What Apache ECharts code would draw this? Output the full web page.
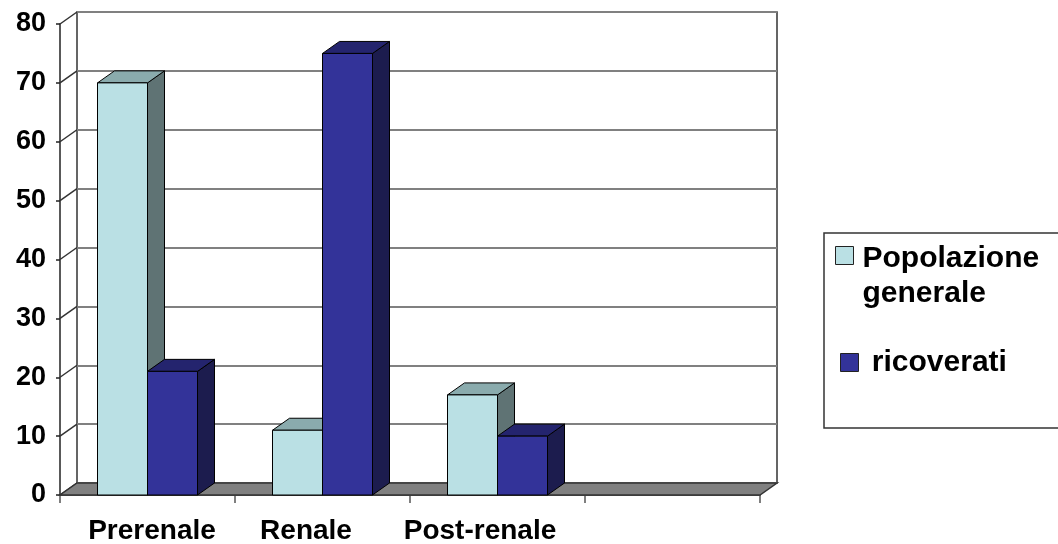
<!DOCTYPE html>
<html>
<head>
<meta charset="utf-8">
<script src="https://cdn.jsdelivr.net/npm/echarts@6/dist/echarts.min.js"></script>
<style>
  html, body { margin: 0; padding: 0; background: #ffffff; }
  #chart { width: 1058px; height: 544px; }
</style>
</head>
<body>
<div id="chart"></div>
<script>
const categories = ['Prerenale', 'Renale', 'Post-renale', '']
const popolazione = [70, 11, 17, null]
const ricoverati = [21, 75, 10, null]
const yTicks = [0, 10, 20, 30, 40, 50, 60, 70, 80]

// 3D depth of walls and bars, in pixels
const DX = 17
const DY = -12
const BAR_FRAC = 50 / 175

const lightColors = { front: '#BAE0E4', top: '#8AABAD', side: '#5F7374' }
const darkColors = { front: '#333399', top: '#24246E', side: '#1C1C4E' }
const font = 'Liberation Sans, Arial, sans-serif'

const chart = echarts.init(document.getElementById('chart'))

const barRenderer = (side, colors) => (params, api) => {
  const v = api.value(1)
  if (v == null || isNaN(v)) return null
  const idx = api.value(0)
  const base = api.coord([idx, 0])
  const top = api.coord([idx, v])
  const bw = api.size([1, 0])[0] * BAR_FRAC
  const x0 = base[0] + (side === 0 ? -bw : 0)
  const x1 = x0 + bw
  const ty = top[1]
  const by = base[1]
  const edge = { stroke: '#000', lineWidth: 1 }
  return {
    type: 'group',
    children: [
      { type: 'polygon', shape: { points: [[x1, ty], [x1 + DX, ty + DY], [x1 + DX, by + DY], [x1, by]] }, style: Object.assign({ fill: colors.side }, edge) },
      { type: 'polygon', shape: { points: [[x0, ty], [x1, ty], [x1 + DX, ty + DY], [x0 + DX, ty + DY]] }, style: Object.assign({ fill: colors.top }, edge) },
      { type: 'rect', shape: { x: x0, y: ty, width: bw, height: by - ty }, style: Object.assign({ fill: colors.front }, edge) }
    ]
  }
}

const labelStyle = { fontSize: 28, fontWeight: 'bold', fontFamily: font, color: '#000' }
const legendText = { fontSize: 30, fontWeight: 'bold', fontFamily: font, color: '#000', lineHeight: 35 }

const option = {
  backgroundColor: '#ffffff',
  animation: false,
  grid: [
    { left: 60, top: 24, width: 700, height: 471, outerBoundsMode: 'none' },
    { left: 77, top: 12, width: 700, height: 471, outerBoundsMode: 'none', show: true, borderColor: '#333', borderWidth: 1.5, backgroundColor: '#fff' }
  ],
  xAxis: [
    {
      type: 'category',
      gridIndex: 0,
      data: categories,
      axisLine: { show: true, lineStyle: { color: '#222', width: 1.5 } },
      axisTick: { show: true, length: 8, lineStyle: { color: '#555', width: 1.5 } },
      axisLabel: {
        margin: 22,
        interval: 0,
        formatter: (value, index) => '{c' + index + '|' + value + '}',
        rich: {
          c0: Object.assign({ padding: [0, 0, 0, 9] }, labelStyle),
          c1: Object.assign({ padding: [0, 33, 0, 0] }, labelStyle),
          c2: Object.assign({ padding: [0, 35, 0, 0] }, labelStyle),
          c3: labelStyle
        }
      },
      splitLine: { show: false }
    },
    {
      type: 'category',
      gridIndex: 1,
      data: categories,
      show: false
    }
  ],
  yAxis: [
    {
      type: 'value',
      gridIndex: 0,
      min: 0,
      max: 80,
      interval: 10,
      axisLine: { show: true, lineStyle: { color: '#222', width: 1.5 } },
      axisTick: { show: true, length: 4, lineStyle: { color: '#222', width: 1.5 } },
      axisLabel: { margin: 14, fontSize: 27, fontWeight: 'bold', fontFamily: font, color: '#000' },
      splitLine: { show: false }
    },
    {
      type: 'value',
      gridIndex: 1,
      min: 0,
      max: 80,
      interval: 10,
      axisLine: { show: false },
      axisTick: { show: false },
      axisLabel: { show: false },
      splitLine: { show: true, lineStyle: { color: '#808080', width: 2 } }
    }
  ],
  legend: [
    {
      data: ['Popolazione generale'],
      left: 835,
      top: 200,
      padding: 0,
      orient: 'vertical',
      selectedMode: false,
      icon: 'rect',
      itemWidth: 18,
      itemHeight: 18,
      itemStyle: { borderColor: '#222', borderWidth: 1 },
      formatter: () => '{b| }\n{a|Popolazione}\n{a|generale}',
      textStyle: Object.assign({
        rich: {
          a: Object.assign({ padding: [0, 0, 0, 4] }, legendText),
          b: Object.assign({}, legendText, { lineHeight: 41 })
        }
      }, legendText)
    },
    {
      data: ['ricoverati'],
      left: 840,
      top: 345,
      padding: 0,
      orient: 'vertical',
      selectedMode: false,
      icon: 'rect',
      itemWidth: 18,
      itemHeight: 18,
      itemStyle: { borderColor: '#222', borderWidth: 1 },
      formatter: () => ' ricoverati',
      textStyle: legendText
    }
  ],
  graphic: [
    {
      type: 'rect',
      z: 0,
      shape: { x: 824, y: 233, width: 260, height: 195 },
      style: { fill: '#fff', stroke: '#333', lineWidth: 1.5 }
    }
  ],
  series: [
    {
      type: 'custom',
      name: 'walls',
      xAxisIndex: 0,
      yAxisIndex: 0,
      data: yTicks.map(v => [0, v]),
      renderItem: (params, api) => {
        const cs = params.coordSys
        const y = api.coord([0, api.value(1)])[1]
        return { type: 'line', shape: { x1: cs.x, y1: y, x2: cs.x + DX, y2: y + DY }, style: { stroke: '#333', lineWidth: 1.5 } }
      },
      silent: true
    },
    {
      type: 'custom',
      name: 'floor',
      xAxisIndex: 0,
      yAxisIndex: 0,
      data: [[0, 0]],
      renderItem: (params, api) => {
        const cs = params.coordSys
        const y0 = api.coord([0, 0])[1]
        return {
          type: 'polygon',
          shape: { points: [[cs.x, y0], [cs.x + cs.width, y0], [cs.x + cs.width + DX, y0 + DY], [cs.x + DX, y0 + DY]] },
          style: { fill: '#808080', stroke: '#333', lineWidth: 1.5 }
        }
      },
      silent: true
    },
    {
      type: 'custom',
      name: 'Popolazione generale',
      xAxisIndex: 0,
      yAxisIndex: 0,
      itemStyle: { color: lightColors.front },
      encode: { x: 0, y: 1 },
      data: categories.map((c, i) => [i, popolazione[i]]),
      renderItem: barRenderer(0, lightColors)
    },
    {
      type: 'custom',
      name: 'ricoverati',
      xAxisIndex: 0,
      yAxisIndex: 0,
      itemStyle: { color: darkColors.front },
      encode: { x: 0, y: 1 },
      data: categories.map((c, i) => [i, ricoverati[i]]),
      renderItem: barRenderer(1, darkColors)
    }
  ]
}

chart && chart.setOption(option)
</script>
</body>
</html>
